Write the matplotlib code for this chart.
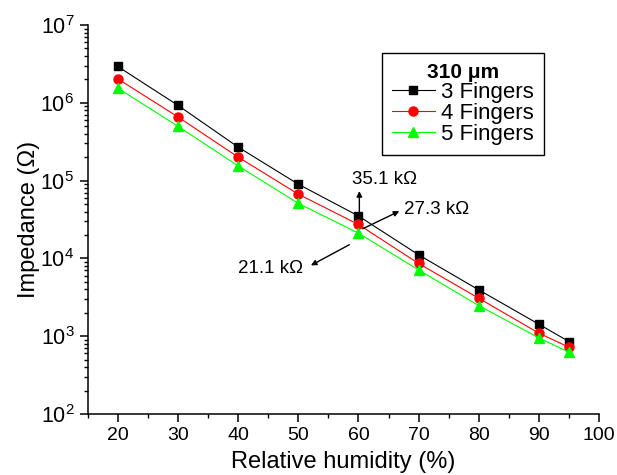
#!/usr/bin/env python3
'''Impedance vs relative humidity, 310 um electrodes'''
import matplotlib
matplotlib.use("Agg")
import matplotlib.pyplot as plt
from matplotlib.ticker import MultipleLocator, LogLocator

plt.rcParams['font.family'] = ['Liberation Sans', 'DejaVu Sans']
plt.rcParams['mathtext.fontset'] = 'custom'
plt.rcParams['mathtext.rm'] = 'Liberation Sans'
plt.rcParams['mathtext.it'] = 'Liberation Sans:italic'
plt.rcParams['mathtext.bf'] = 'Liberation Sans:bold'

humidity = [20, 30, 40, 50, 60, 70, 80, 90, 95]
z_3fingers = [2.94e6, 9.3e5, 2.70e5, 9.0e4, 3.51e4, 1.11e4, 3.93e3, 1.42e3, 8.5e2]
z_4fingers = [2.04e6, 6.6e5, 2.01e5, 6.7e4, 2.73e4, 8.6e3, 3.07e3, 1.09e3, 7.2e2]
z_5fingers = [1.55e6, 5.0e5, 1.55e5, 5.1e4, 2.11e4, 7.1e3, 2.47e3, 9.5e2, 6.2e2]

series = [
    ("3 Fingers", z_3fingers, "black", "s", 5.5),
    ("4 Fingers", z_4fingers, "red", "o", 6.5),
    ("5 Fingers", z_5fingers, "#00ff00", "^", 7),
]

fig = plt.figure(figsize=(6.17, 4.75), dpi=100)
ax = fig.add_axes([87.5/617, 1-414/475, (599.3-87.5)/617, 389/475])

for name, vals, col, mk, ms in series:
    ax.plot(humidity, vals, color=col, lw=0.8, marker=mk, ms=ms,
            markerfacecolor=col, markeredgecolor=col, label=name)

ax.set_yscale('log')
ax.yaxis.set_major_locator(LogLocator(base=10, numticks=10))
ax.yaxis.set_minor_locator(LogLocator(base=10, subs=range(2, 10), numticks=20))
ax.xaxis.set_major_locator(MultipleLocator(10))
ax.xaxis.set_minor_locator(MultipleLocator(5))
ax.set_xlim(15, 100)
ax.set_ylim(1e2, 1e7)

for s in ('top', 'right'):
    ax.spines[s].set_visible(False)
for s in ('left', 'bottom'):
    ax.spines[s].set_linewidth(1.1)
ax.tick_params(which='major', direction='out', length=6, width=1.1, labelsize=14)
ax.tick_params(axis='y', which='major', labelsize=15.5)
ax.tick_params(which='minor', direction='out', length=3.2, width=1.0)

ax.set_xlabel("Relative humidity (%)", fontsize=17, labelpad=5)
ax.set_ylabel("Impedance (\u03a9)", fontsize=17, labelpad=0)

arrow = dict(arrowstyle='-|>', color='black', lw=1.0, mutation_scale=8)
ax.annotate("", xy=(60.15, 7.96e4), xytext=(60.15, 3.44e4), arrowprops=arrow)
ax.text(59.0, 1.04e5, "35.1 k\u03a9", fontsize=13.5, ha='left', va='center')
ax.annotate("", xy=(67.2, 4.19e4), xytext=(60.3, 2.32e4), arrowprops=arrow)
ax.text(67.6, 4.27e4, "27.3 k\u03a9", fontsize=13.5, ha='left', va='center')
ax.annotate("", xy=(51.7, 7.82e3), xytext=(58.9, 1.56e4), arrowprops=arrow)
ax.text(50.8, 7.5e3, "21.1 k\u03a9", fontsize=13.5, ha='right', va='center')

leg = ax.legend(loc='upper right', bbox_to_anchor=(0.892, 0.928),
                fontsize=16, title="310 \u03bcm",
                title_fontproperties={'weight': 'bold', 'size': 15},
                handlelength=1.9, labelspacing=0.0, handletextpad=0.3,
                fancybox=False, framealpha=1, edgecolor='black',
                borderpad=0.45, borderaxespad=0)
leg.get_frame().set_linewidth(1.0)

fig.savefig("out.png", dpi=100)
